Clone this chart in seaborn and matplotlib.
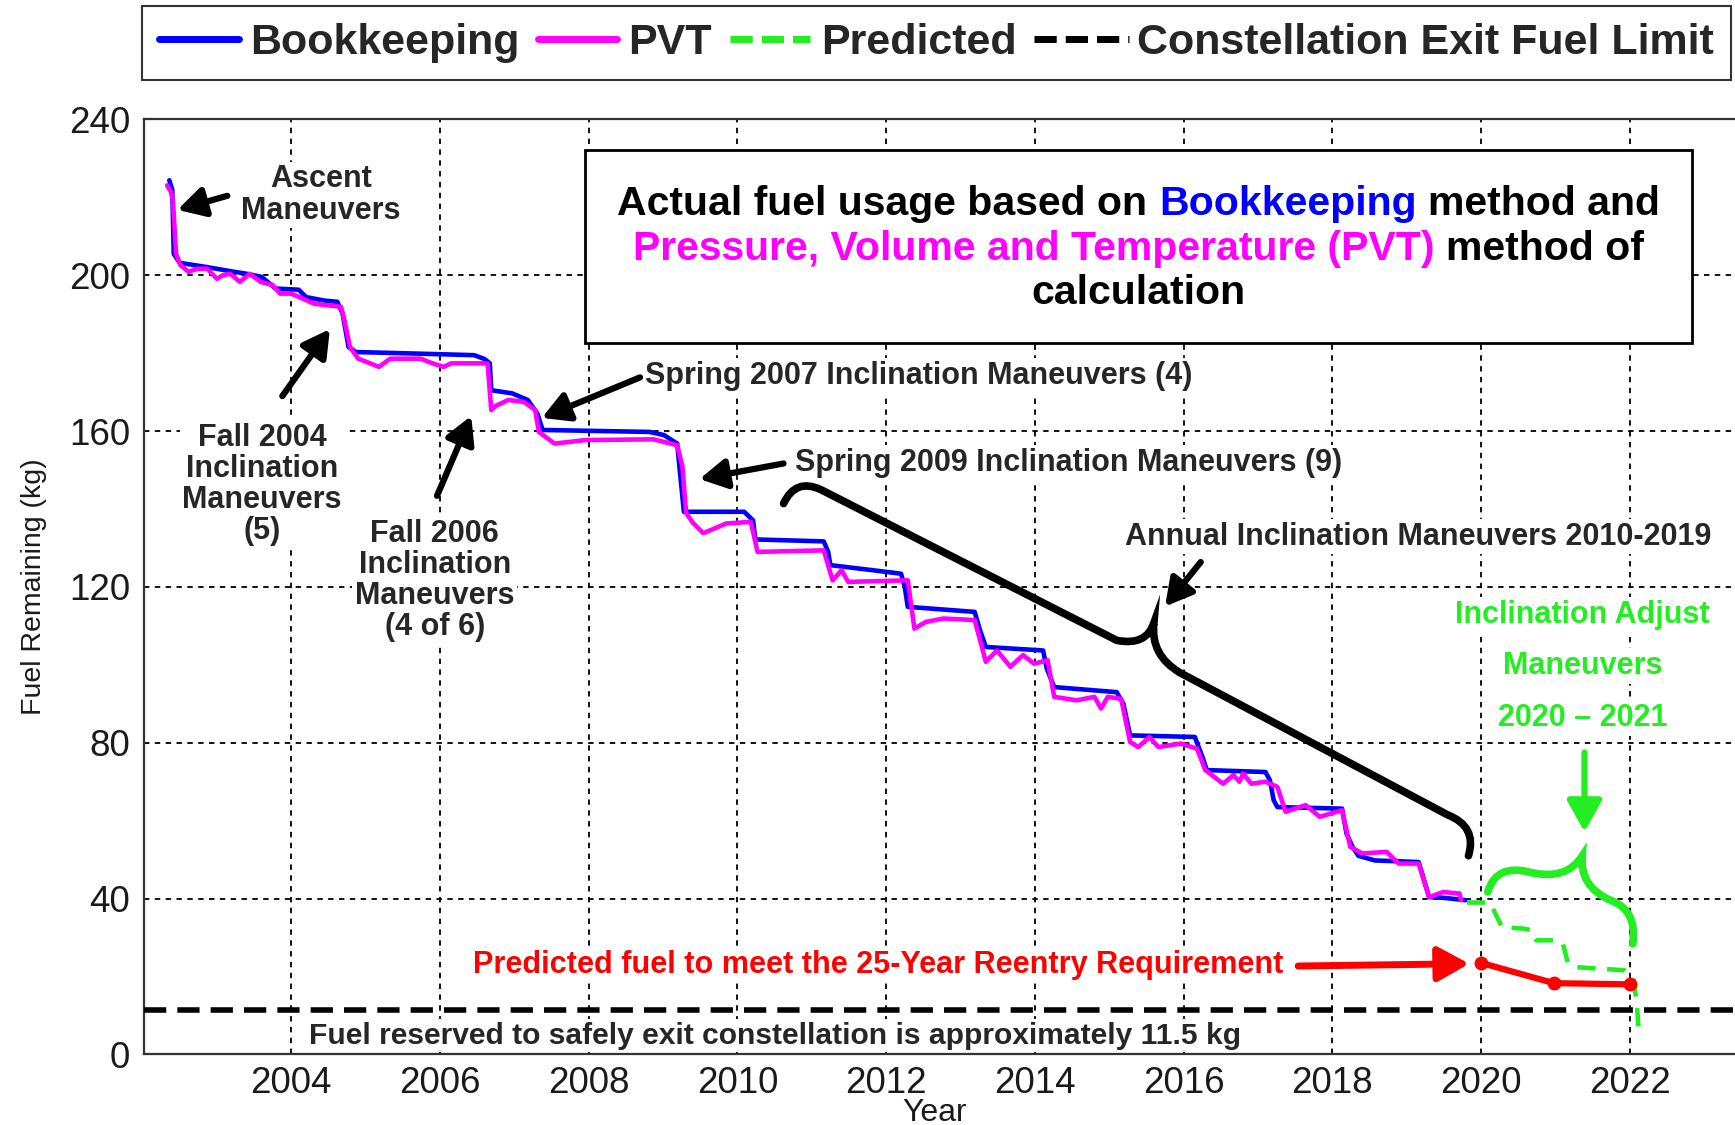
import matplotlib
matplotlib.use("Agg")
import matplotlib.pyplot as plt
import seaborn as sns
import pandas as pd
from matplotlib.path import Path
from matplotlib.patches import PathPatch, Rectangle
from matplotlib.offsetbox import TextArea, HPacker, VPacker, AnnotationBbox
from matplotlib.legend_handler import HandlerLine2D

# ---- data ----
book_year = [2002.36, 2002.40, 2002.42, 2002.50, 2002.87, 2003.20, 2003.40, 2003.60,
             2003.79, 2004.10, 2004.20, 2004.45, 2004.62, 2004.69, 2004.77, 2004.87,
             2005.50, 2006.46, 2006.60, 2006.67, 2006.69, 2006.97, 2007.18, 2007.31,
             2007.38, 2008.82, 2009.01, 2009.19, 2009.22, 2009.28, 2010.09, 2010.21,
             2010.24, 2011.16, 2011.22, 2011.25, 2011.82, 2012.20, 2012.25, 2012.29,
             2013.19, 2013.26, 2013.34, 2014.11, 2014.16, 2014.26, 2015.10, 2015.19,
             2015.28, 2016.15, 2016.26, 2016.31, 2017.10, 2017.16, 2017.21, 2017.26,
             2018.13, 2018.19, 2018.27, 2018.35, 2018.57, 2019.16, 2019.22, 2019.30,
             2019.50, 2019.79]
book_fuel = [224.4, 222.0, 205.5, 203.2, 202.1, 201.0, 200.4, 199.6,
             196.6, 196.3, 194.4, 193.5, 193.2, 190.2, 181.6, 180.3,
             180.0, 179.5, 178.5, 177.4, 170.5, 169.7, 168.0, 164.5,
             160.3, 159.8, 159.0, 156.8, 150.8, 139.3, 139.3, 137.1,
             132.2, 131.7, 129.0, 125.6, 124.3, 123.4, 120.0, 114.9,
             113.6, 109.0, 104.6, 103.7, 99.0, 94.3, 93.0, 90.0,
             81.9, 81.5, 76.0, 73.0, 72.5, 70.4, 65.3, 63.5,
             63.1, 56.7, 53.3, 51.0, 49.8, 49.4, 45.6, 40.4,
             40.2, 39.6]

pvt_year = [2002.33, 2002.38, 2002.41, 2002.45, 2002.51, 2002.62, 2002.74, 2002.87,
            2003.00, 2003.08, 2003.18, 2003.31, 2003.44, 2003.59, 2003.75, 2003.85,
            2004.00, 2004.31, 2004.67, 2004.72, 2004.79, 2004.90, 2005.18, 2005.33,
            2005.74, 2005.90, 2006.05, 2006.15, 2006.64, 2006.69, 2006.75, 2006.92,
            2007.13, 2007.28, 2007.33, 2007.54, 2007.95, 2008.87, 2009.19, 2009.26,
            2009.31, 2009.40, 2009.54, 2009.85, 2010.18, 2010.27, 2011.16, 2011.28,
            2011.40, 2011.49, 2012.29, 2012.38, 2012.53, 2012.77, 2013.19, 2013.34,
            2013.49, 2013.67, 2013.84, 2013.99, 2014.17, 2014.26, 2014.56, 2014.80,
            2014.89, 2014.98, 2015.16, 2015.28, 2015.39, 2015.54, 2015.66, 2015.96,
            2016.18, 2016.29, 2016.53, 2016.67, 2016.75, 2016.80, 2016.91, 2017.10,
            2017.26, 2017.37, 2017.64, 2017.83, 2018.13, 2018.24, 2018.40, 2018.73,
            2018.89, 2019.16, 2019.30, 2019.49, 2019.71, 2019.73]
pvt_fuel = [223.1, 221.5, 219.0, 205.6, 202.6, 200.9, 201.7, 201.7,
            199.1, 200.0, 200.4, 198.3, 200.4, 198.3, 197.5, 195.3,
            195.3, 192.7, 191.9, 188.0, 181.6, 178.6, 176.5, 178.6,
            178.6, 177.4, 176.5, 177.4, 177.4, 165.4, 166.5, 168.0,
            167.5, 165.4, 159.8, 156.8, 157.7, 157.9, 156.4, 150.9,
            139.0, 136.5, 133.8, 136.3, 136.7, 129.0, 129.4, 121.7,
            124.3, 121.3, 121.7, 109.3, 111.0, 111.9, 111.5, 100.8,
            103.7, 99.5, 102.5, 100.3, 101.2, 91.8, 90.9, 91.8,
            88.8, 91.8, 91.3, 80.2, 78.9, 81.5, 78.9, 79.8,
            78.5, 73.0, 69.5, 71.7, 70.0, 72.1, 69.5, 70.0,
            68.7, 62.3, 64.0, 61.0, 62.7, 53.3, 51.6, 52.0,
            49.0, 49.0, 40.4, 41.7, 41.3, 39.6]

pred_year = [2019.81, 2020.11, 2020.17, 2020.28, 2020.57, 2020.68, 2020.74, 2021.00,
             2021.10, 2021.17, 2021.28, 2021.93, 2022.04, 2022.09, 2022.12]
pred_fuel = [39.0, 39.0, 37.0, 32.7, 32.3, 31.9, 29.3, 29.3,
             28.4, 23.3, 22.4, 21.6, 19.9, 13.9, 6.2]

reentry_year = [2020.0, 2020.98, 2022.0]
reentry_fuel = [23.5, 18.3, 18.0]

exit_limit = 11.5

x_ticks = list(range(2004, 2023, 2))
y_ticks = list(range(0, 241, 40))

BLUE = "#0000ff"
MAGENTA = "#ff00ff"
GREEN = "#22ee22"
RED = "#ff0000"

sns.set_theme(style="white")
plt.rcParams["font.family"] = ["Liberation Sans", "DejaVu Sans"]
BOLD = dict(family=["Liberation Sans", "DejaVu Sans"], weight="bold")

fig = plt.figure(figsize=(17.35, 11.25), dpi=100)
ax = fig.add_axes([0.083, 0.0627, 0.9164, 0.8311])

book_df = pd.DataFrame({"year": book_year, "fuel": book_fuel})
pvt_df = pd.DataFrame({"year": pvt_year, "fuel": pvt_fuel})
pred_df = pd.DataFrame({"year": pred_year, "fuel": pred_fuel})
red_df = pd.DataFrame({"year": reentry_year, "fuel": reentry_fuel})

sns.lineplot(data=book_df, x="year", y="fuel", ax=ax, sort=False, estimator=None,
             color=BLUE, lw=3.3, label="Bookkeeping", zorder=4)
sns.lineplot(data=pvt_df, x="year", y="fuel", ax=ax, sort=False, estimator=None,
             color=MAGENTA, lw=3.3, label="PVT", zorder=5)
sns.lineplot(data=pred_df, x="year", y="fuel", ax=ax, sort=False, estimator=None,
             color=GREEN, lw=3.3, label="Predicted", zorder=4)
ax.lines[-1].set_dashes((4, 2.5))
sns.lineplot(data=red_df, x="year", y="fuel", ax=ax, sort=False, estimator=None,
             color=RED, lw=4.5, marker="o", markersize=10, markeredgewidth=0, zorder=5)
limit_line = ax.axhline(exit_limit, color="black", lw=4, dashes=(4, 2), zorder=4,
                        label="Constellation Exit Fuel Limit")

handles, labels = ax.get_legend_handles_labels()
if ax.get_legend() is not None:
    ax.get_legend().remove()
labels = [(" " + lab) if lab.startswith("Constellation") else lab for lab in labels]

# Axes
ax.set_xlim(2002.02, 2023.4)
ax.set_ylim(0, 240)
ax.set_xticks(x_ticks)
ax.set_yticks(y_ticks)
ax.grid(True, color="black", lw=1.3, dashes=(3, 3))
ax.set_axisbelow(True)
ax.tick_params(direction="in", length=9, width=1.5, labelsize=26.5,
               labelcolor="#1a1a1a", color="#333333")
ax.tick_params(axis="x", pad=8)
ax.tick_params(axis="y", pad=10)
for side in ["left", "bottom", "top"]:
    ax.spines[side].set_color("#333333")
    ax.spines[side].set_linewidth(1.6)
ax.spines["right"].set_visible(False)
ax.set_xlabel("Year", fontsize=23, color="#1a1a1a")
ax.set_ylabel("Fuel Remaining (kg)", fontsize=20.5, color="#1a1a1a")
ax.xaxis.set_label_coords(0.4975, -0.047)
ax.yaxis.set_label_coords(-0.061, 0.5)


# Legend: the dashed limit entry gets a slightly longer sample line
class LongerLine(HandlerLine2D):
    def __init__(self, extra, **kw):
        super().__init__(**kw)
        self.extra = extra

    def create_artists(self, legend, orig_handle, xdescent, ydescent, width,
                       height, fontsize, trans):
        return super().create_artists(legend, orig_handle, xdescent, ydescent,
                                      width + self.extra, height, fontsize, trans)


leg = fig.legend(handles, labels, loc="upper left", bbox_to_anchor=(0.082, 0.995),
                 ncol=4, frameon=True, fancybox=False, edgecolor="black",
                 prop=dict(family="Liberation Sans", weight="bold", size=31),
                 handlelength=1.85, handletextpad=0.26, columnspacing=0.415,
                 borderpad=0.4, borderaxespad=0,
                 handler_map={limit_line: LongerLine(11)})
leg.get_frame().set_linewidth(1.5)
for h, lab in zip(leg.legend_handles, labels):
    h.set_linewidth(5)
    if lab in ("Predicted", " Constellation Exit Fuel Limit"):
        h.set_dashes((3.2, 1.3))

# Annotations
ANN = 22
wbox = dict(facecolor="white", edgecolor="none", pad=2)


def arrow(tail, head, color="black", lw=4.5, scale=18):
    ax.annotate("", xy=head, xytext=tail, zorder=6,
                arrowprops=dict(arrowstyle="-|>,head_length=0.9,head_width=0.5",
                                color=color, lw=lw, mutation_scale=scale,
                                shrinkA=0, shrinkB=0))


ax.text(2004.40, 220.6, "Ascent\nManeuvers", ha="center", va="center",
        fontsize=ANN, linespacing=1.05, bbox=wbox, **BOLD)
arrow((2003.14, 220.4), (2002.47, 216.8))

ax.text(2003.61, 146.3, "Fall 2004\nInclination\nManeuvers\n(5)", ha="center",
        va="center", fontsize=ANN, linespacing=1.05, bbox=wbox, **BOLD)
arrow((2003.88, 169.0), (2004.52, 186.2))

ax.text(2005.93, 121.6, "Fall 2006\nInclination\nManeuvers\n(4 of 6)", ha="center",
        va="center", fontsize=ANN, linespacing=1.05, bbox=wbox, **BOLD)
arrow((2005.96, 143.4), (2006.42, 163.9))

ax.text(2008.76, 174.2, "Spring 2007 Inclination Maneuvers (4)", ha="left",
        va="center", fontsize=ANN, bbox=wbox, **BOLD)
arrow((2008.69, 173.8), (2007.37, 163.4))

ax.text(2010.77, 151.9, "Spring 2009 Inclination Maneuvers (9)", ha="left",
        va="center", fontsize=ANN, bbox=wbox, **BOLD)
arrow((2010.62, 151.7), (2009.49, 147.7))

ax.text(2015.21, 132.9, "Annual Inclination Maneuvers 2010-2019", ha="left",
        va="center", fontsize=ANN, bbox=wbox, **BOLD)
arrow((2016.23, 126.4), (2015.75, 115.0))

# black brace over the annual maneuvers
brace_verts = [(2010.62, 141.4), (2010.78, 148.0), (2011.12, 145.0),
               (2015.10, 106.3), (2015.50, 104.8), (2015.60, 110.8),
               (2015.55, 102.5), (2015.95, 98.0), (2019.55, 61.5),
               (2019.95, 58.5), (2019.83, 51.0)]
brace_codes = [Path.MOVETO, Path.CURVE3, Path.CURVE3, Path.LINETO,
               Path.CURVE3, Path.CURVE3, Path.CURVE3, Path.CURVE3,
               Path.LINETO, Path.CURVE3, Path.CURVE3]
ax.add_patch(PathPatch(Path(brace_verts, brace_codes), fill=False, lw=5.5,
                       color="black", capstyle="round", zorder=6))

# green brace for the 2020-2021 maneuvers
gbrace_verts = [(2020.09, 41.7), (2020.20, 49.0), (2020.65, 46.8),
                (2021.15, 44.5), (2021.36, 51.0), (2021.32, 43.0),
                (2021.75, 39.5), (2022.10, 37.0), (2022.04, 28.4)]
gbrace_codes = [Path.MOVETO, Path.CURVE3, Path.CURVE3, Path.CURVE3,
                Path.CURVE3, Path.CURVE3, Path.CURVE3, Path.CURVE3, Path.CURVE3]
ax.add_patch(PathPatch(Path(gbrace_verts, gbrace_codes), fill=False, lw=5.5,
                       color=GREEN, capstyle="round", zorder=6))

for yy, s in zip([112.8, 99.7, 86.3], ["Inclination Adjust", "Maneuvers", "2020 \u2013 2021"]):
    ax.text(2021.36, yy, s, ha="center", va="center", fontsize=ANN,
            color=GREEN, bbox=wbox, **BOLD)
arrow((2021.39, 77.5), (2021.39, 57.1), color=GREEN, lw=4.5, scale=21)

ax.text(2006.45, 23.0, "Predicted fuel to meet the 25-Year Reentry Requirement",
        ha="left", va="center", fontsize=22.1, color=RED, bbox=wbox, **BOLD)
arrow((2017.54, 22.7), (2019.84, 23.3), color=RED, lw=5, scale=21)

ax.text(2010.51, 4.8, "Fuel reserved to safely exit constellation is approximately 11.5 kg",
        ha="center", va="center", fontsize=21.6, bbox=wbox, **BOLD)

# boxed explanation
ax.add_patch(Rectangle((0.2776, 0.761), 0.6959, 0.206, transform=ax.transAxes,
                       facecolor="white", edgecolor="black", lw=2, zorder=6))
BOX = 29.5


def seg(s, c="black"):
    return TextArea(s, textprops=dict(color=c, fontsize=BOX, fontweight="bold",
                                      family="Liberation Sans"))


sp = 0.278 * BOX
l1 = HPacker(children=[seg("Actual fuel usage based on"), seg("Bookkeeping", BLUE),
                       seg("method and")], sep=sp, pad=0, align="baseline")
l2 = HPacker(children=[seg("Pressure, Volume and Temperature (PVT)", MAGENTA),
                       seg("method of")], sep=sp, pad=0, align="baseline")
l3 = HPacker(children=[seg("calculation")], sep=sp, pad=0, align="baseline")
block = VPacker(children=[l1, l2, l3], sep=4.5, pad=0, align="center")
ab = AnnotationBbox(block, (0.6255, 0.862), xycoords="axes fraction",
                    frameon=False, box_alignment=(0.5, 0.5), zorder=7)
ax.add_artist(ab)

fig.savefig("out.png", dpi=100)
